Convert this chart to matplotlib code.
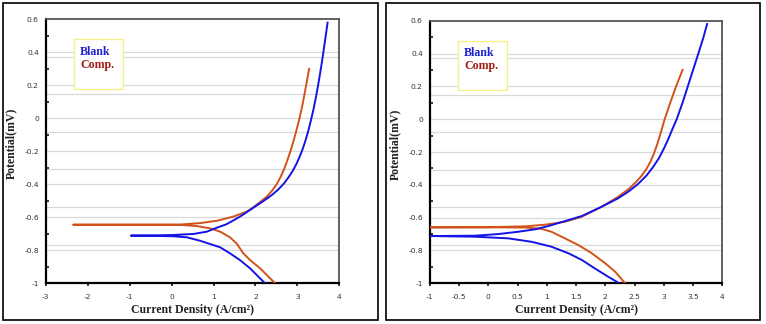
"Tafel polarization curves, Blank vs Comp."

import matplotlib.pyplot as plt
from matplotlib.patches import Rectangle
import numpy as np

# left chart, Blank (blue): anodic and cathodic branches from the tip at Ecorr
left_blank_anodic_x = [-0.97, -0.5, 0.04, 0.52, 0.84, 1.08, 1.3, 1.5, 1.7, 1.95, 2.2, 2.4, 2.55, 2.68, 2.79,
                       2.89, 2.98, 3.05, 3.12, 3.18, 3.25, 3.32, 3.38, 3.44, 3.49, 3.54, 3.59, 3.65, 3.72]
left_blank_anodic_y = [-0.711, -0.710, -0.707, -0.701, -0.687, -0.663, -0.643, -0.615, -0.585, -0.542, -0.5, -0.463, -0.43, -0.395, -0.357,
                       -0.318, -0.275, -0.235, -0.19, -0.145, -0.085, -0.015, 0.05, 0.125, 0.195, 0.27, 0.35, 0.455, 0.58]
left_blank_cathodic_x = [-0.97, -0.5, 0.04, 0.36, 0.68, 0.92, 1.16, 1.39, 1.63, 1.87, 2.11, 2.23]
left_blank_cathodic_y = [-0.711, -0.712, -0.715, -0.721, -0.742, -0.762, -0.782, -0.818, -0.859, -0.909, -0.970, -1.0]

# left chart, Comp. (orange)
left_comp_anodic_x = [-2.34, -1.0, 0.2, 0.68, 1.08, 1.47, 1.79, 1.95, 2.27, 2.4, 2.51, 2.6, 2.68, 2.76,
                      2.84, 2.91, 2.98, 3.05, 3.12, 3.18, 3.23, 3.28]
left_comp_anodic_y = [-0.645, -0.645, -0.644, -0.635, -0.621, -0.596, -0.566, -0.539, -0.475, -0.437, -0.398, -0.355, -0.31, -0.255,
                      -0.195, -0.135, -0.07, 0.0, 0.08, 0.16, 0.23, 0.30]
left_comp_cathodic_x = [-2.34, -1.0, 0.2, 0.6, 0.92, 1.16, 1.39, 1.55, 1.71, 1.87, 2.11, 2.35, 2.47]
left_comp_cathodic_y = [-0.645, -0.645, -0.646, -0.653, -0.667, -0.687, -0.721, -0.758, -0.818, -0.859, -0.909, -0.970, -1.0]

# right chart, Blank
right_blank_anodic_x = [-1.0, -0.23, 0.17, 0.51, 0.80, 1.03, 1.31, 1.60, 1.94, 2.22, 2.4, 2.56, 2.7, 2.82,
                        2.92, 3.0, 3.08, 3.15, 3.22, 3.32, 3.41, 3.5, 3.59, 3.67, 3.74]
right_blank_anodic_y = [-0.712, -0.710, -0.700, -0.686, -0.671, -0.651, -0.621, -0.590, -0.533, -0.482, -0.44, -0.395, -0.345, -0.29,
                        -0.235, -0.18, -0.118, -0.058, 0.0, 0.1, 0.2, 0.3, 0.4, 0.49, 0.58]
right_blank_cathodic_x = [-1.0, -0.23, 0.34, 0.74, 1.08, 1.37, 1.60, 1.82, 2.05, 2.24]
right_blank_cathodic_y = [-0.712, -0.716, -0.726, -0.747, -0.777, -0.817, -0.858, -0.909, -0.960, -1.0]

# right chart, Comp.
right_comp_anodic_x = [-1.0, 0.0, 0.63, 0.97, 1.31, 1.60, 1.94, 2.22, 2.4, 2.52, 2.62, 2.7, 2.77,
                       2.83, 2.89, 2.95, 3.015, 3.11, 3.21, 3.32]
right_comp_anodic_y = [-0.659, -0.658, -0.653, -0.643, -0.625, -0.594, -0.533, -0.473, -0.425, -0.385, -0.345, -0.305, -0.26,
                       -0.21, -0.15, -0.08, 0.0, 0.1, 0.2, 0.30]
right_comp_cathodic_x = [-1.0, 0.0, 0.63, 0.91, 1.08, 1.31, 1.54, 1.77, 2.0, 2.17, 2.34]
right_comp_cathodic_y = [-0.659, -0.659, -0.660, -0.668, -0.686, -0.726, -0.767, -0.817, -0.878, -0.930, -1.0]

left_xticks = [-3, -2, -1, 0, 1, 2, 3, 4]
right_xticks = [-1, -0.5, 0, 0.5, 1, 1.5, 2, 2.5, 3, 3.5, 4]
yticks = [-1, -0.8, -0.6, -0.4, -0.2, 0, 0.2, 0.4, 0.6]
# second set of grey lines that sits between the 0.2 steps
extra_grid = [0.374, 0.147, -0.08, -0.307, -0.535, -0.765]

BLUE = '#1414e6'
ORANGE = '#d2521c'


def join_branches(an_x, an_y, ca_x, ca_y):
    # cathodic branch runs in to the tip, anodic one runs out of it
    x = list(reversed(ca_x)) + an_x[1:]
    y = list(reversed(ca_y)) + an_y[1:]
    return x, y


def draw_panel(ax, xlim, xticks, blank, comp):
    ax.set_xlim(*xlim)
    ax.set_ylim(-1, 0.6)
    for g in yticks[1:-1] + extra_grid:
        ax.axhline(g, color='#d9d9d9', lw=0.9, zorder=0)

    ax.plot(*comp, color=ORANGE, lw=1.4, zorder=3, solid_joinstyle='round')
    ax.plot(*blank, color=BLUE, lw=1.4, zorder=3, solid_joinstyle='round')

    ax.set_xticks(xticks)
    ax.set_xticklabels(['%g' % t for t in xticks])
    ax.set_yticks(yticks)
    ax.set_yticklabels(['%g' % t for t in yticks])
    ax.set_yticks(np.arange(-0.9, 0.6, 0.2), minor=True)
    ax.tick_params(axis='y', which='major', length=0, pad=5, labelsize=5.4, labelcolor='#333333')
    ax.tick_params(axis='y', which='minor', direction='in', length=2.5, width=1.1, color='black')
    ax.tick_params(axis='x', which='major', direction='out', length=2.5, width=1.1, pad=5,
                   labelsize=5.4, labelcolor='#333333')

    ax.spines['left'].set_linewidth(1.6)
    ax.spines['bottom'].set_linewidth(1.6)
    for side in ['top', 'right']:
        ax.spines[side].set_color('#555555')
        ax.spines[side].set_linewidth(1.3)

    ax.set_xlabel('Current Density (A/cm²)', family='Liberation Serif', weight='bold',
                  fontsize=8.5, color='#222222', labelpad=3)
    ax.set_ylabel('Potential(mV)', family='Liberation Serif', weight='bold',
                  fontsize=8.5, color='#222222', labelpad=5, y=0.53)

    # legend box
    ax.add_patch(Rectangle((0.097, 0.736), 0.167, 0.188, transform=ax.transAxes,
                           facecolor='white', edgecolor='#f5f08a', lw=1.0, zorder=4))
    ax.text(0.117, 0.877, 'Blank', transform=ax.transAxes, color='#2020d0',
            family='Liberation Serif', weight='bold', fontsize=8.6, va='center', zorder=5)
    ax.text(0.117, 0.827, 'Comp.', transform=ax.transAxes, color='#a31a14',
            family='Liberation Serif', weight='bold', fontsize=8.6, va='center', zorder=5)


fig = plt.figure(figsize=(7.66, 3.24), dpi=100)

ax1 = fig.add_axes([0.0597, 0.1256, 0.3833, 0.8148])
ax2 = fig.add_axes([0.561, 0.1256, 0.382, 0.8105])

draw_panel(ax1, (-3, 4), left_xticks,
           join_branches(left_blank_anodic_x, left_blank_anodic_y, left_blank_cathodic_x, left_blank_cathodic_y),
           join_branches(left_comp_anodic_x, left_comp_anodic_y, left_comp_cathodic_x, left_comp_cathodic_y))
draw_panel(ax2, (-1, 4), right_xticks,
           join_branches(right_blank_anodic_x, right_blank_anodic_y, right_blank_cathodic_x, right_blank_cathodic_y),
           join_branches(right_comp_anodic_x, right_comp_anodic_y, right_comp_cathodic_x, right_comp_cathodic_y))

# frames round each chart
W, H = 766.0, 324.0
for x0, x1 in [(3, 378), (386, 760)]:
    fig.patches.append(Rectangle((x0 / W, 1 - 320 / H), (x1 - x0) / W, 317 / H,
                                 transform=fig.transFigure, fill=False,
                                 edgecolor='black', lw=1.2))

fig.savefig('out.png', dpi=100)
